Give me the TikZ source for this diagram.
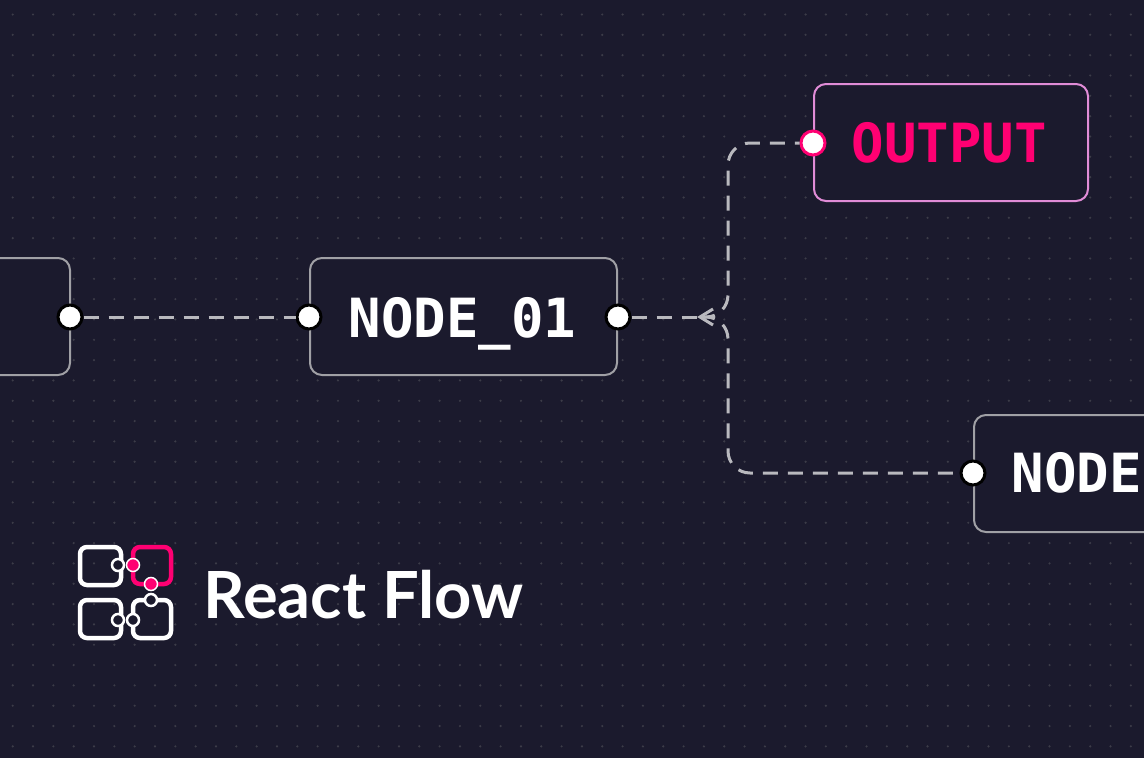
\documentclass[tikz,border=0pt]{standalone}
\usepackage{fontspec}
\setmonofont{DejaVu Sans Mono}
\newfontfamily\logofont{Lato}
\definecolor{canvas}{RGB}{27,26,45}
\definecolor{griddot}{RGB}{60,60,72}
\definecolor{edgegray}{RGB}{185,185,190}
\definecolor{framegray}{RGB}{160,160,165}
\definecolor{flowpink}{RGB}{255,0,114}
\definecolor{lilac}{RGB}{225,140,215}
\tikzset{
  flownode/.style={draw=framegray, line width=2pt, rounded corners=12pt, fill=canvas},
  flowlabel/.style={text=white, font=\ttfamily\bfseries\fontsize{54}{54}\selectfont, anchor=base west},
  handle/.style={circle, draw=black, line width=3pt, fill=white, minimum size=24pt, inner sep=0pt},
  flowedge/.style={draw=edgegray, line width=3pt, dash pattern=on 15pt off 10pt},
  logobox/.style={draw=white, line width=4.5pt, rounded corners=7pt},
  logoring/.style={circle, draw=white, line width=2.5pt, fill=canvas, minimum size=12pt, inner sep=0pt},
}
\begin{document}
\begin{tikzpicture}[x=1pt, y=-1pt]
  \fill[canvas] (0,0) rectangle (1144,758);
  \useasboundingbox (0,0) rectangle (1144,758);

  % dotted background
  \foreach \i in {0,...,56}{
    \foreach \j in {0,...,37}{
      \fill[griddot] ({12.7+20.33*\i-20.33},{14.5+20.33*\j}) circle (1.2pt);
    }
  }

  % nodes
  \draw[flownode] (-30,258) rectangle (70,375);
  \draw[flownode] (310,258) rectangle (617,375);
  \node[flowlabel] at (345,337) {NODE\_01};
  \draw[draw=lilac, line width=2pt, rounded corners=12pt, fill=canvas] (814,84) rectangle (1088,201);
  \node[flowlabel, text=flowpink] at (848,162) {OUTPUT};
  \draw[flownode] (974,415) rectangle (1170,532);
  \node[flowlabel] at (1008,492) {NODE};

  % handles
  \node[handle] (inHandle) at (70,317) {};
  \node[handle] (n1In) at (309,317) {};
  \node[handle] (n1Out) at (618,317) {};
  \node[handle, draw=flowpink] (outIn) at (813,143) {};
  \node[handle] (n2In) at (973,473) {};
  \coordinate (fork) at (700,317);

  % edges
  \draw[flowedge] (inHandle) -- (n1In);
  \draw[flowedge] (n1Out) -- (fork);
  \draw[edgegray, line width=3pt] (713,309) -- (700,317) -- (713,325);
  \draw[flowedge, rounded corners=22pt] (fork) -| (728,143) -- (outIn);
  \draw[flowedge, rounded corners=22pt] (fork) -| (728,473) -- (n2In);

  % logo
  \draw[logobox] (80,547) rectangle (121,585);
  \draw[logobox, draw=flowpink] (133,547) rectangle (171,584);
  \draw[logobox] (80,600) rectangle (121,638);
  \draw[logobox] (133,600) rectangle (171,638);
  \node[logoring] (ringA) at (118,565) {};
  \node[circle, fill=flowpink, draw=white, line width=1.5pt, minimum size=13pt, inner sep=0pt] (dotA) at (133,565) {};
  \node[circle, fill=flowpink, draw=white, line width=1.5pt, minimum size=13pt, inner sep=0pt] (dotB) at (151,584) {};
  \node[logoring] (ringB) at (151,600) {};
  \node[logoring] (ringC) at (118,620) {};
  \node[logoring] (ringD) at (133,620) {};
  \node[text=white, font=\logofont\bfseries\fontsize{65}{65}\selectfont, anchor=base west] (brand) at (200,618) {React Flow};
\end{tikzpicture}
\end{document}
